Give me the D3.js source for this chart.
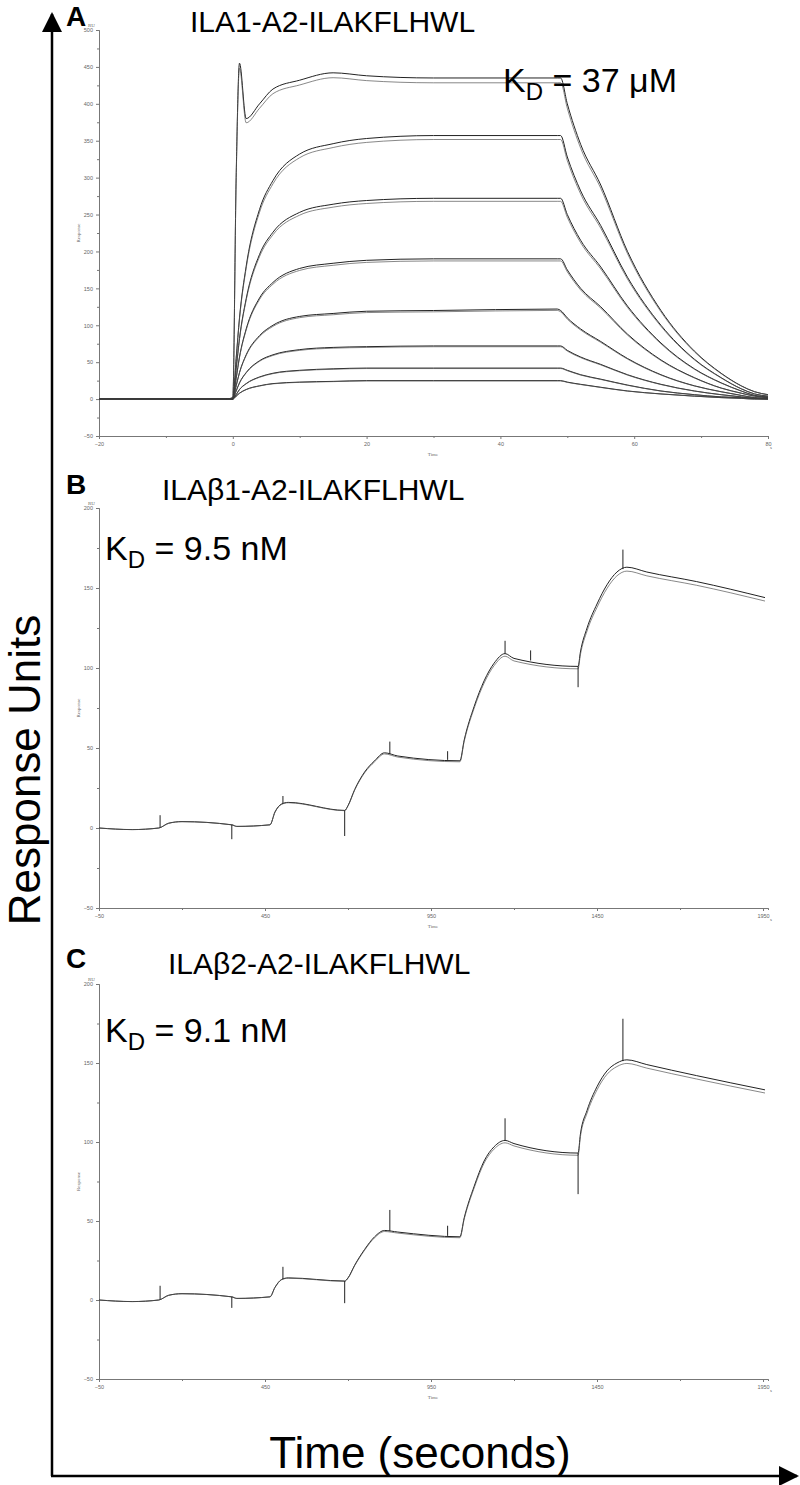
<!DOCTYPE html>
<html><head><meta charset="utf-8">
<script src="https://cdn.jsdelivr.net/npm/d3@7"></script>
<style>body{margin:0;background:#fff}</style></head>
<body><svg id="c" width="800" height="1485"></svg>
<script>
// ---- Panel A data ----
const timesA = [-20,-1,0,0.5,1,2,4,6,10,15,20,30,48.5,49,50,52,55,59,64,69,73,76,78,80];
const seriesA = [
  [0,0,2,300,455,380,400,420,432,442,438,435,435,435,400,345,290,200,120,65,35,18,10,6],
  [0,0,0,55,110,180,257,296,332,346,353,357,357,357,328,282,235,165,100,54,29,14,7,4],
  [0,0,0,41,82,136,196,226,253,264,269,272,272,272,250,215,179,126,76,41,22,11,5,3],
  [0,0,0,28,57,95,137,158,177,184,188,190,190,190,175,150,125,88,53,29,15,8,4,2],
  [0,0,0,18,36,60,86,100,112,116,119,120,122,120,110,95,78,55,33,18,10,5,2,1],
  [0,0,0,11,22,36,52,60,67,70,71,72,72,72,66,57,47,33,20,11,6,3,1,1],
  [0,0,0,6,13,21,30,35,39,41,42,42,42,42,39,33,27,19,11,6,3,2,1,0],
  [0,0,0,4,8,13,18,21,23,24,25,25,25,25,23,20,16,11,7,4,2,1,0,0]
];
const ticksA = [-20,0,20,40,60,80];
const yTicksA = [-50,0,50,100,150,200,250,300,350,400,450,500];
// ---- Panel B data ----
const timesB = [-50,50,130,160,200,350,365,465,480,500,520,690,700,720,750,780,810,850,1037,1050,1080,1110,1140,1173,1200,1393,1400,1420,1450,1480,1510,1540,1600,1750,1956];
const valuesB = [0,-1,0,3,4,2,1,2,10,15,16,11,14,24,35,42,47,45,42,55,76,92,103,109,106,101,110,125,140,152,160,163,160,154,144];
const spikeTB = [134,350,504,690,826,1000,1173,1250,1393,1528];
const spikeVB = [8,-7,20,-5,54,48,117,111,88,174];
// ---- Panel C data ----
const timesC = [-50,50,130,160,200,350,365,465,480,500,520,690,700,720,750,780,810,850,1037,1050,1080,1110,1140,1173,1200,1393,1400,1420,1450,1480,1510,1540,1600,1750,1956];
const valuesC = [0,-1,0,3,4,2,1,2,8,13,14,12,14,22,32,40,44,43,40,52,72,88,97,101,99,93,105,120,135,145,150,152,149,142,133];
const spikeTC = [134,350,504,690,826,1000,1173,1393,1528];
const spikeVC = [9,-5,21,-2,57,47,115,67,178];
const ticksBC = [-50,450,950,1450,1950];
const yTicksBC = [-50,0,50,100,150,200];

const svg = d3.select("#c");
const FF = "Liberation Sans, Arial, sans-serif";

function panel(o){
  const x = d3.scaleLinear().domain(o.xd).range([99,768]);
  const y = d3.scaleLinear().domain(o.yd).range(o.yr);
  const g = svg.append("g");
  g.append("g").attr("transform",`translate(0,${o.yr[0]})`)
    .call(d3.axisBottom(x).tickValues(o.xt).tickSize(3).tickSizeOuter(0).tickFormat(d3.format("d")));
  g.append("g").attr("transform","translate(99,0)")
    .call(d3.axisLeft(y).tickValues(o.yt).tickSize(3).tickSizeOuter(0).tickFormat(d3.format("d")));
  const mx = [];
  for(let i=0;i<o.xt.length-1;i++) mx.push((o.xt[i]+o.xt[i+1])/2);
  g.append("g").attr("transform",`translate(0,${o.yr[0]})`)
    .call(d3.axisBottom(x).tickValues(mx).tickSize(2).tickFormat(""));
  const my = [];
  for(let i=0;i<o.yt.length-1;i++) my.push((o.yt[i]+o.yt[i+1])/2);
  g.append("g").attr("transform","translate(99,0)")
    .call(d3.axisLeft(y).tickValues(my).tickSize(2).tickFormat(""));
  g.selectAll(".domain,.tick line").attr("stroke","#777");
  g.selectAll(".tick text").attr("font-size",5.5).attr("fill","#666").attr("font-family",FF);
  g.append("text").attr("x",88).attr("y",o.yr[1]-3).attr("font-size",5).attr("fill","#666").text("RU");
  g.append("text").attr("transform",`translate(80,${(o.yr[0]+o.yr[1])/2}) rotate(-90)`)
    .attr("text-anchor","middle").attr("font-size",5).attr("fill","#666").text("Response");
  g.append("text").attr("x",433).attr("y",o.yr[0]+20).attr("text-anchor","middle").attr("font-size",5).attr("fill","#666").text("Time");
  g.append("text").attr("x",770).attr("y",o.yr[0]+13).attr("font-size",5).attr("fill","#666").text("s");
  const line = d3.line().x(d=>x(d[0])).y(d=>y(d[1])).curve(d3.curveMonotoneX);
  o.series.forEach(s=>{
    g.append("path").datum(s).attr("d",line).attr("fill","none").attr("stroke","#222").attr("stroke-width",1);
    g.append("path").datum(s.map(d=>[d[0],d[1]*0.985])).attr("d",line).attr("fill","none").attr("stroke","#555").attr("stroke-width",0.7);
  });
  if(o.spikes){
    const interp = d3.scaleLinear().domain(o.series[0].map(d=>d[0])).range(o.series[0].map(d=>d[1]));
    o.spikes.forEach(([t,v])=>{
      g.append("line").attr("x1",x(t)).attr("x2",x(t)).attr("y1",y(interp(t))).attr("y2",y(v)).attr("stroke","#222").attr("stroke-width",1);
    });
  }
  svg.append("text").attr("x",o.lx).attr("y",o.ly).attr("font-family",FF).attr("font-weight","bold").attr("font-size",28).text(o.letter);
  svg.append("text").attr("x",o.tx).attr("y",o.ly+6).attr("font-family",FF).attr("font-size",30).text(o.title);
  const k = svg.append("text").attr("x",o.kx).attr("y",o.ky).attr("font-family",FF).attr("font-size",34);
  k.append("tspan").text("K");
  k.append("tspan").attr("font-size",24).attr("dy",8).text("D");
  k.append("tspan").attr("dy",-8).text(" = "+o.kd);
}

panel({xd:[-20,80],yd:[-50,500],yr:[436,30],xt:ticksA,yt:yTicksA,
  series:seriesA.map(s=>s.map((v,i)=>[timesA[i],v])),
  letter:"A",lx:66,ly:26,tx:190,title:"ILA1-A2-ILAKFLHWL",kx:503,ky:92,kd:"37 μM"});
panel({xd:[-50,1965],yd:[-50,200],yr:[908,508],xt:ticksBC,yt:yTicksBC,
  series:[valuesB.map((v,i)=>[timesB[i],v])],spikes:spikeTB.map((t,i)=>[t,spikeVB[i]]),
  letter:"B",lx:66,ly:494,tx:162,title:"ILAβ1-A2-ILAKFLHWL",kx:105,ky:560,kd:"9.5 nM"});
panel({xd:[-50,1965],yd:[-50,200],yr:[1379,984],xt:ticksBC,yt:yTicksBC,
  series:[valuesC.map((v,i)=>[timesC[i],v])],spikes:spikeTC.map((t,i)=>[t,spikeVC[i]]),
  letter:"C",lx:66,ly:968,tx:168,title:"ILAβ2-A2-ILAKFLHWL",kx:105,ky:1042,kd:"9.1 nM"});

svg.append("defs").append("marker").attr("id","ar").attr("viewBox","0 0 10 10").attr("refX",9).attr("refY",5)
  .attr("markerWidth",8).attr("markerHeight",8).attr("orient","auto")
  .append("path").attr("d","M0,0L10,5L0,10z").attr("fill","#000");
svg.append("line").attr("x1",52).attr("y1",1476).attr("x2",52).attr("y2",14).attr("stroke","#000").attr("stroke-width",2.5).attr("marker-end","url(#ar)");
svg.append("line").attr("x1",51).attr("y1",1476).attr("x2",797).attr("y2",1476).attr("stroke","#000").attr("stroke-width",2.5).attr("marker-end","url(#ar)");
svg.append("text").attr("transform","translate(40,770) rotate(-90)").attr("text-anchor","middle")
  .attr("font-family",FF).attr("font-size",44).text("Response Units");
svg.append("text").attr("x",420).attr("y",1468).attr("text-anchor","middle")
  .attr("font-family",FF).attr("font-size",44).text("Time (seconds)");
</script></body></html>
